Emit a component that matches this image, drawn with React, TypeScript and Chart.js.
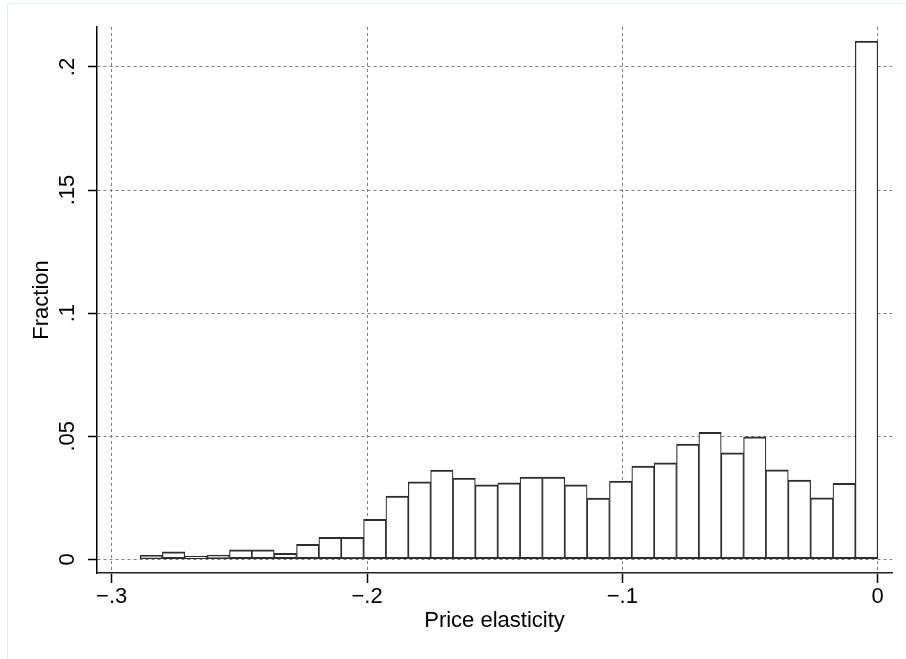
import React, { useEffect, useRef } from "react";
import { Chart, registerables } from "chart.js";

Chart.register(...registerables);

// Histogram bins (range of the data) and fraction per bin
const binStart = -0.2889;
const binEnd = 0;
const fractions = [
  0.0016, 0.003, 0.0013, 0.0017, 0.0038, 0.0038, 0.0024, 0.0061, 0.0089, 0.0089,
  0.0162, 0.0257, 0.0315, 0.0362, 0.033, 0.0302, 0.0311, 0.0334, 0.0334, 0.0302,
  0.0249, 0.0318, 0.0379, 0.0392, 0.0468, 0.0516, 0.0432, 0.0498, 0.0363, 0.0322,
  0.025, 0.0309, 0.2105,
];

const xTickValues = [-0.3, -0.2, -0.1, 0];
const xTickLabels = ["\u2212.3", "\u2212.2", "\u2212.1", "0"];
const yTickValues = [0, 0.05, 0.1, 0.15, 0.2];
const yTickLabels = ["0", ".05", ".1", ".15", ".2"];
const xTitle = "Price elasticity";
const yTitle = "Fraction";

const FONT = "'Liberation Sans', Arial, Helvetica, sans-serif";

export default function App() {
  const ref = useRef<HTMLCanvasElement | null>(null);

  useEffect(() => {
    if (!ref.current) return;
    const binWidth = (binEnd - binStart) / fractions.length;
    const points = fractions.map((f, i) => ({ x: binStart + (i + 0.5) * binWidth, y: f }));

    const chart = new Chart(ref.current, {
      type: "bar",
      data: {
        datasets: [
          {
            data: points,
            backgroundColor: "#ffffff",
            borderColor: "#2e2e2e",
            borderWidth: { top: 2, bottom: 2, left: 1.2, right: 1.2 },
            borderSkipped: false,
            barPercentage: 1,
            categoryPercentage: 1,
          },
        ],
      },
      options: {
        animation: false,
        responsive: false,
        devicePixelRatio: 1,
        layout: { padding: { top: 27, right: 14, left: 0, bottom: 0 } },
        plugins: { legend: { display: false }, tooltip: { enabled: false } },
        scales: {
          x: {
            type: "linear",
            offset: false,
            min: -0.30576,
            max: 0.0056,
            afterBuildTicks: (axis: any) => {
              axis.ticks = xTickValues.map((v) => ({ value: v }));
            },
            afterFit: (axis: any) => {
              axis.height = 86;
            },
            ticks: {
              autoSkip: false,
              minRotation: 0,
              maxRotation: 0,
              padding: 0.5,
              color: "#000",
              font: { family: FONT, size: 22 },
              callback: (_v: any, i: number) => xTickLabels[i],
            },
            grid: {
              offset: false,
              color: "#808080",
              lineWidth: 1,
              drawTicks: true,
              tickLength: 10,
              tickColor: "#000",
              tickWidth: 1.5,
            },
            border: { display: true, color: "#222", width: 1.6, dash: [3, 3] },
            title: {
              display: true,
              text: xTitle,
              color: "#000",
              font: { family: FONT, size: 22 },
              padding: { top: 0, bottom: 25 },
            },
          },
          y: {
            type: "linear",
            min: -0.00557,
            max: 0.21625,
            afterBuildTicks: (axis: any) => {
              axis.ticks = yTickValues.map((v) => ({ value: v }));
            },
            afterFit: (axis: any) => {
              axis.width = 97;
            },
            ticks: {
              autoSkip: false,
              minRotation: 90,
              maxRotation: 90,
              crossAlign: "center",
              padding: 5,
              color: "#000",
              font: { family: FONT, size: 22 },
              callback: (_v: any, i: number) => yTickLabels[i],
            },
            grid: {
              color: "#808080",
              lineWidth: 1,
              drawTicks: true,
              tickLength: 9,
              tickColor: "#000",
              tickWidth: 1.5,
            },
            border: { display: true, color: "#000", width: 1.5, dash: [3, 3] },
            title: {
              display: true,
              text: yTitle,
              color: "#000",
              font: { family: FONT, size: 22 },
              padding: { top: 29, bottom: 0 },
            },
          },
        },
      } as any,
    });
    return () => chart.destroy();
  }, []);

  return (
    <div style={{ position: "fixed", left: 0, top: 0, width: 906, height: 659, background: "#fff" }}>
      <div
        style={{
          position: "absolute",
          left: 7,
          top: 3,
          width: 906 - 7,
          height: 659 - 3,
          borderLeft: "1px solid #e4edef",
          borderTop: "1px solid #e4edef",
          boxSizing: "border-box",
        }}
      />
      <canvas ref={ref} width={906} height={659} style={{ position: "absolute", left: 0, top: 0 }} />
    </div>
  );
}
